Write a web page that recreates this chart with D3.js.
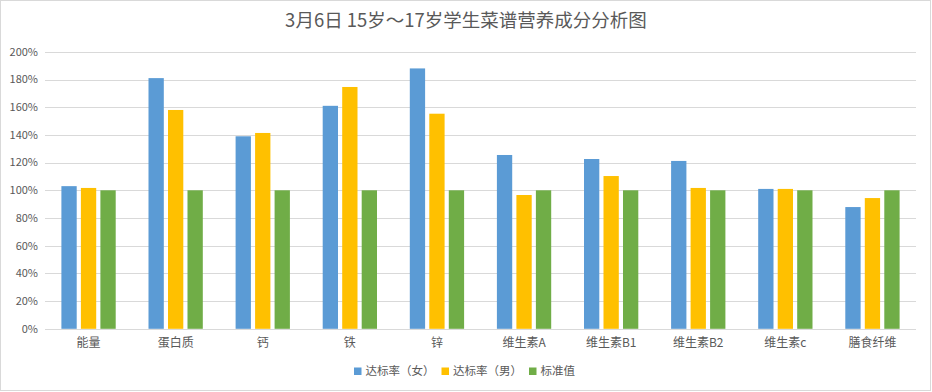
<!DOCTYPE html>
<html><head><meta charset="utf-8">
<script src="https://cdn.jsdelivr.net/npm/d3@7"></script>
<style>body{margin:0;background:#fff}svg{display:block}text{font-family:"Noto Sans CJK SC","Microsoft YaHei",sans-serif}</style>
</head><body><svg id="c" width="932" height="392"></svg>
<script>
const title = "3月6日 15岁～17岁学生菜谱营养成分分析图";
const categories = ["能量","蛋白质","钙","铁","锌","维生素A","维生素B1","维生素B2","维生素c","膳食纤维"];
const seriesNames = ["达标率（女）","达标率（男）","标准值"];
const female = [1.03,1.81,1.39,1.61,1.88,1.255,1.226,1.212,1.01,0.879];
const male   = [1.017,1.58,1.414,1.746,1.553,0.966,1.103,1.017,1.01,0.944];
const standard = [1,1,1,1,1,1,1,1,1,1];
const yTicks = [0,0.2,0.4,0.6,0.8,1,1.2,1.4,1.6,1.8,2];
const colors = ["#5B9BD5","#FFC000","#70AD47"];

const svg = d3.select("#c");
svg.append("rect").attr("x",0.5).attr("y",0.5).attr("width",930).attr("height",390)
  .attr("fill","#fff").attr("stroke","#d9d9d9");

const x0 = d3.scaleBand().domain(categories).range([45,916]).padding(0);
const y = d3.scaleLinear().domain([0,2]).range([328.8,51.8]);
const x1 = d3.scaleBand().domain(seriesNames).range([-27.15,27.15]).paddingInner(0.215).paddingOuter(0);

svg.append("text").attr("x",466).attr("y",27).attr("text-anchor","middle")
  .attr("font-size",18.5).attr("fill","#595959").text(title);

// grid
const g = svg.append("g");
g.selectAll("line.grid").data(yTicks).join("line")
  .attr("x1",45).attr("x2",916).attr("y1",d=>Math.round(y(d))+0.5).attr("y2",d=>Math.round(y(d))+0.5)
  .attr("stroke","#d9d9d9").attr("stroke-width",1);
g.selectAll("text.yl").data(yTicks).join("text")
  .attr("x",38).attr("y",d=>y(d)).attr("dy","0.35em").attr("text-anchor","end")
  .attr("font-size",11).attr("fill","#595959").text(d=>d3.format(".0%")(d));

const data = [female, male, standard];
data.forEach((vals,si)=>{
  svg.append("g").selectAll("rect").data(vals).join("rect")
    .attr("x",(d,i)=>x0(categories[i])+x0.bandwidth()/2+x1(seriesNames[si]))
    .attr("width",x1.bandwidth())
    .attr("y",d=>y(d)).attr("height",d=>y(0)-y(d))
    .attr("fill",colors[si]);
});

// x labels
svg.append("g").selectAll("text").data(categories).join("text")
  .attr("x",d=>x0(d)+x0.bandwidth()/2).attr("y",343).attr("dy","0.35em")
  .attr("text-anchor","middle").attr("font-size",12).attr("fill","#595959").text(d=>d);

// legend
const legX = [354,441.5,529];
const lg = svg.append("g").selectAll("g").data(seriesNames).join("g")
  .attr("transform",(d,i)=>`translate(${legX[i]},371)`);
lg.append("rect").attr("x",0).attr("y",-3.5).attr("width",7.5).attr("height",7.5).attr("fill",(d,i)=>colors[i]);
lg.append("text").attr("x",11.5).attr("y",0).attr("dy","0.35em").attr("font-size",11.5)
  .attr("fill","#595959").text(d=>d);
</script></body></html>
